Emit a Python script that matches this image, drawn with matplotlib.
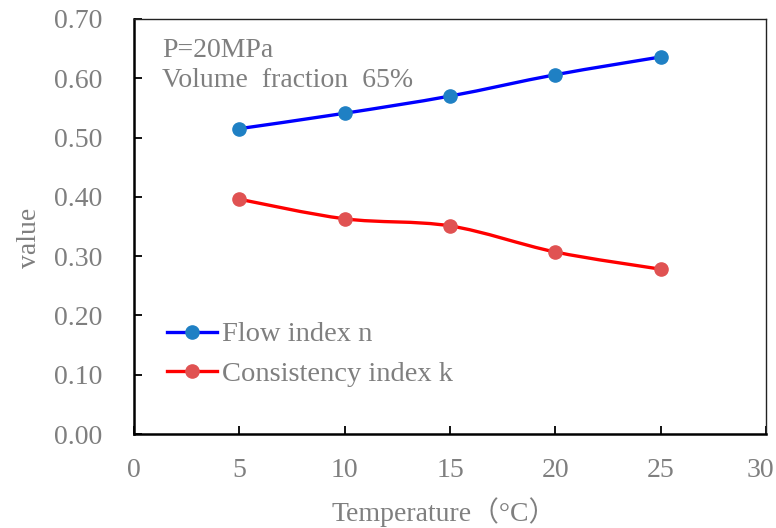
import matplotlib
matplotlib.use("Agg")
import matplotlib.pyplot as plt
from matplotlib.path import Path
from matplotlib.patches import PathPatch
from matplotlib.lines import Line2D
from matplotlib.transforms import ScaledTranslation

temperature = [5, 10, 15, 20, 25]
flow_index_n = [0.515, 0.541, 0.570, 0.606, 0.636]
consistency_k = [0.396, 0.363, 0.351, 0.307, 0.278]

x_ticks = [0, 5, 10, 15, 20, 25, 30]
y_ticks = [0.0, 0.1, 0.2, 0.3, 0.4, 0.5, 0.6, 0.7]

GRAY = "#7f7f7f"
FS = 20
plt.rcParams["font.family"] = ["Liberation Serif", "Noto Sans CJK SC"]


def smooth_path(xs, ys):
    # excel-like smoothed line: cubic bezier segments through every point
    pts = list(zip(xs, ys))
    verts = [pts[0]]
    codes = [Path.MOVETO]
    for i in range(len(pts) - 1):
        p0 = pts[i - 1] if i > 0 else pts[i]
        p1 = pts[i]
        p2 = pts[i + 1]
        p3 = pts[i + 2] if i + 2 < len(pts) else pts[i + 1]
        c1 = (p1[0] + (p2[0] - p0[0]) / 6, p1[1] + (p2[1] - p0[1]) / 6)
        c2 = (p2[0] - (p3[0] - p1[0]) / 6, p2[1] - (p3[1] - p1[1]) / 6)
        verts += [c1, c2, p2]
        codes += [Path.CURVE4] * 3
    return Path(verts, codes)


fig = plt.figure(figsize=(7.76, 5.28), dpi=100)
ax = fig.add_axes([134 / 776, 1 - 434 / 528, 632 / 776, 415 / 528])

series = [
    (flow_index_n, "#0000ff", "#1f80c4", "Flow index n"),
    (consistency_k, "#ff0000", "#e05252", "Consistency index k"),
]
handles = []
for vals, lc, mc, name in series:
    ax.add_patch(PathPatch(smooth_path(temperature, vals), fill=False,
                           edgecolor=lc, lw=2.4, capstyle="round", zorder=2))
    ax.plot(temperature, vals, ls="none", marker="o", ms=9.5,
            color=mc, zorder=3)
    handles.append(Line2D([], [], color=lc, lw=2.4, marker="o", ms=9.5,
                          markerfacecolor=mc, markeredgecolor=mc))

ax.set_xlim(0, 30)
ax.set_ylim(0, 0.7)
ax.set_xticks(x_ticks)
ax.set_yticks(y_ticks)
ax.set_yticklabels([f"{v:.2f}" for v in y_ticks])
ax.tick_params(direction="in", length=6, width=1.3, colors="black",
               labelcolor=GRAY, labelsize=FS)
ax.tick_params(axis="y", pad=23)
ax.tick_params(axis="x", pad=17)

# last x label sits a bit inside the right edge, like the original
last = ax.get_xticklabels()[-1]
last.set_transform(last.get_transform() +
                   ScaledTranslation(-6 / 100, 0, fig.dpi_scale_trans))

for side in ["left", "bottom"]:
    ax.spines[side].set_linewidth(1.8)
for side in ["top", "right"]:
    ax.spines[side].set_linewidth(1.0)
    ax.spines[side].set_color("#222222")

ax.set_xlabel("Temperature（°C）", fontsize=FS, color=GRAY, va="center")
ax.xaxis.set_label_coords(0.49, -0.188)
ax.set_ylabel("value", fontsize=FS, color=GRAY, va="center")
ax.yaxis.set_label_coords(-0.166, 0.472)

ax.text(0.045, 0.925, "P=20MPa", transform=ax.transAxes, fontsize=FS,
        color=GRAY, va="center")
ax.text(0.045, 0.853, "Volume  fraction  65%", transform=ax.transAxes,
        fontsize=FS, color=GRAY, va="center")

leg = ax.legend(handles=handles, labels=[s[3] for s in series],
                loc="center left", bbox_to_anchor=(0.052, 0.192),
                frameon=False, fontsize=20.5, handlelength=1.75,
                handletextpad=0.2, labelspacing=0.48, borderaxespad=0,
                borderpad=0)
for t in leg.get_texts():
    t.set_color(GRAY)

fig.savefig("out.png", dpi=100)
